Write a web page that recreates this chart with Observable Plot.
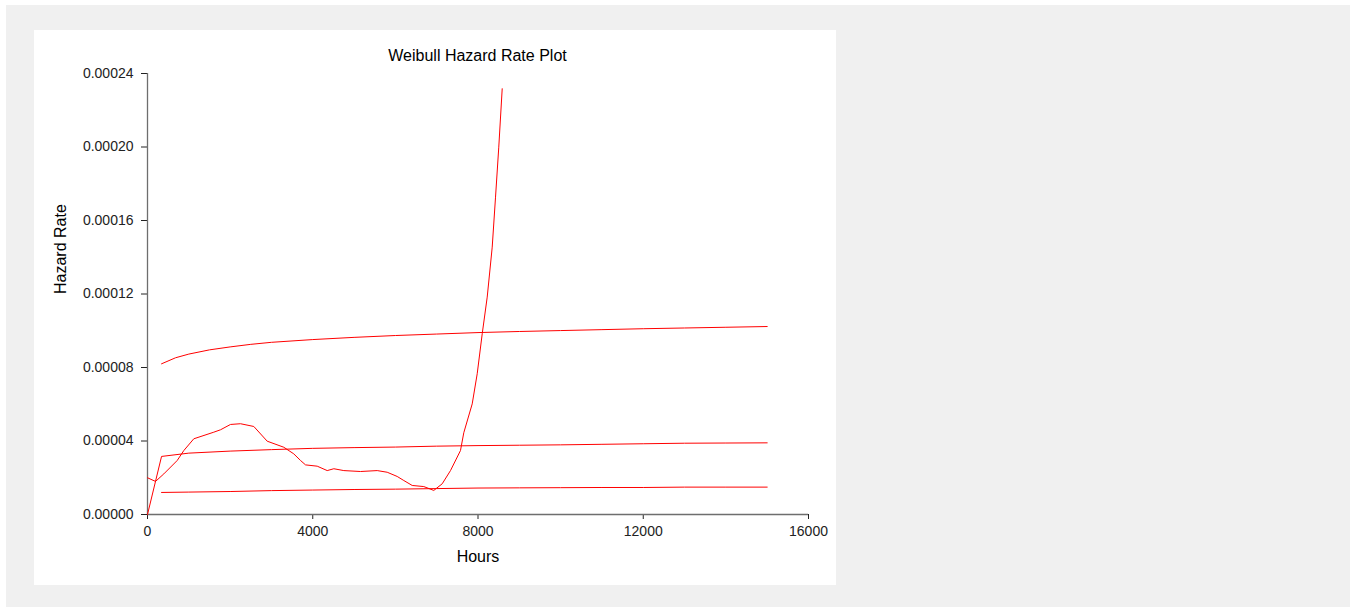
<!DOCTYPE html>
<html>
<head>
<meta charset="utf-8">
<script src="https://cdn.jsdelivr.net/npm/d3@7"></script>
<script src="https://cdn.jsdelivr.net/npm/@observablehq/plot@0.6"></script>
<style>
html, body { margin: 0; padding: 0; background: #ffffff; }
#bg { position: absolute; left: 6px; top: 5px; width: 1344px; height: 602px; background: #f0f0f0; }
#panel { position: absolute; left: 34px; top: 30px; width: 802px; height: 555px; background: #ffffff;
  font-family: "Liberation Sans", Arial, sans-serif; }
#title { position: absolute; left: 113px; width: 661px; top: 16px; text-align: center;
  font-size: 16px; line-height: 20px; color: #000; }
#chart { position: absolute; left: 0; top: 33px; }
</style>
</head>
<body>
<div id="bg"></div>
<div id="panel">
  <div id="title">Weibull Hazard Rate Plot</div>
  <div id="chart"></div>
</div>
<script>
// Tick values
const xTicks = [0, 4000, 8000, 12000, 16000];
const yTicks = [0, 0.00004, 0.00008, 0.00012, 0.00016, 0.00020, 0.00024];

// Upper Weibull curve
const hoursA = [340, 680, 1000, 1500, 2000, 2500, 3000, 4000, 5000, 6000, 7000, 8000, 9000, 10000, 11000, 12000, 13000, 14000, 15000];
const rateA = [8.20e-5, 8.53e-5, 8.73e-5, 8.96e-5, 9.12e-5, 9.26e-5, 9.37e-5, 9.52e-5, 9.64e-5, 9.74e-5, 9.82e-5, 9.90e-5, 9.96e-5, 10.01e-5, 10.06e-5, 10.11e-5, 10.15e-5, 10.19e-5, 10.23e-5];

// Middle Weibull curve
const hoursB = [0, 340, 1000, 2000, 3000, 4000, 5000, 6000, 7000, 8000, 9000, 10000, 11000, 12000, 13000, 14000, 15000];
const rateB = [0, 3.16e-5, 3.34e-5, 3.45e-5, 3.53e-5, 3.60e-5, 3.64e-5, 3.67e-5, 3.72e-5, 3.75e-5, 3.77e-5, 3.79e-5, 3.82e-5, 3.85e-5, 3.88e-5, 3.89e-5, 3.90e-5];

// Lower Weibull curve
const hoursC = [340, 1000, 2000, 3000, 4000, 5000, 6000, 7000, 8000, 9000, 10000, 11000, 12000, 13000, 14000, 15000];
const rateC = [1.20e-5, 1.22e-5, 1.25e-5, 1.30e-5, 1.33e-5, 1.36e-5, 1.38e-5, 1.41e-5, 1.44e-5, 1.45e-5, 1.46e-5, 1.47e-5, 1.47e-5, 1.49e-5, 1.49e-5, 1.49e-5];

// Empirical hazard curve
const hoursD = [0, 194, 395, 719, 879, 1121, 1605, 1767, 2009, 2251, 2573, 2897, 3299, 3541, 3704, 3825, 4108, 4350, 4510, 4752, 5156, 5560, 5802, 6044, 6204, 6407, 6688, 6930, 7133, 7334, 7576, 7656, 7860, 7981, 8102, 8223, 8344, 8424, 8503, 8586];
const rateD = [2.00e-5, 1.80e-5, 2.21e-5, 2.94e-5, 3.48e-5, 4.12e-5, 4.48e-5, 4.61e-5, 4.90e-5, 4.94e-5, 4.79e-5, 3.99e-5, 3.66e-5, 3.30e-5, 2.94e-5, 2.70e-5, 2.63e-5, 2.39e-5, 2.49e-5, 2.39e-5, 2.34e-5, 2.39e-5, 2.30e-5, 2.07e-5, 1.85e-5, 1.58e-5, 1.52e-5, 1.31e-5, 1.67e-5, 2.39e-5, 3.48e-5, 4.45e-5, 6.02e-5, 7.66e-5, 9.83e-5, 11.83e-5, 14.55e-5, 17.27e-5, 19.99e-5, 23.17e-5];

const seriesList = [
  ["A", hoursA, rateA],
  ["B", hoursB, rateB],
  ["C", hoursC, rateC],
  ["D", hoursD, rateD]
];
const rows = seriesList.flatMap(([s, hs, rs]) => hs.map((h, i) => ({series: s, hours: h, rate: rs[i]})));

const font = '"Liberation Sans", Arial, sans-serif';
const chart = Plot.plot({
  width: 802,
  height: 522,
  marginLeft: 113,
  marginRight: 28,
  marginTop: 10,
  marginBottom: 71,
  style: {fontFamily: font, fontSize: "14px", color: "#222", background: "transparent", overflow: "visible"},
  x: {domain: [0, 16000], ticks: xTicks, tickFormat: d3.format("d"), tickSize: 5, tickPadding: 7, label: null},
  y: {domain: [0, 0.00024], ticks: yTicks, tickFormat: d3.format(".5f"), tickSize: 6, tickPadding: 8, label: null},
  marks: [
    Plot.ruleY([0], {stroke: "#6e6e6e", strokeWidth: 1.3}),
    Plot.ruleX([0], {stroke: "#6e6e6e", strokeWidth: 1.3}),
    Plot.line(rows, {x: "hours", y: "rate", z: "series", stroke: "#ff0000", strokeWidth: 1}),
    Plot.text(["Hours"], {text: d => d, frameAnchor: "bottom", dy: 47, fontSize: 16, fill: "#000"}),
    Plot.text(["Hazard Rate"], {text: d => d, frameAnchor: "left", dx: -87, rotate: -90, fontSize: 16, fill: "#000"})
  ]
});
document.getElementById("chart").appendChild(chart);
</script>
</body>
</html>
